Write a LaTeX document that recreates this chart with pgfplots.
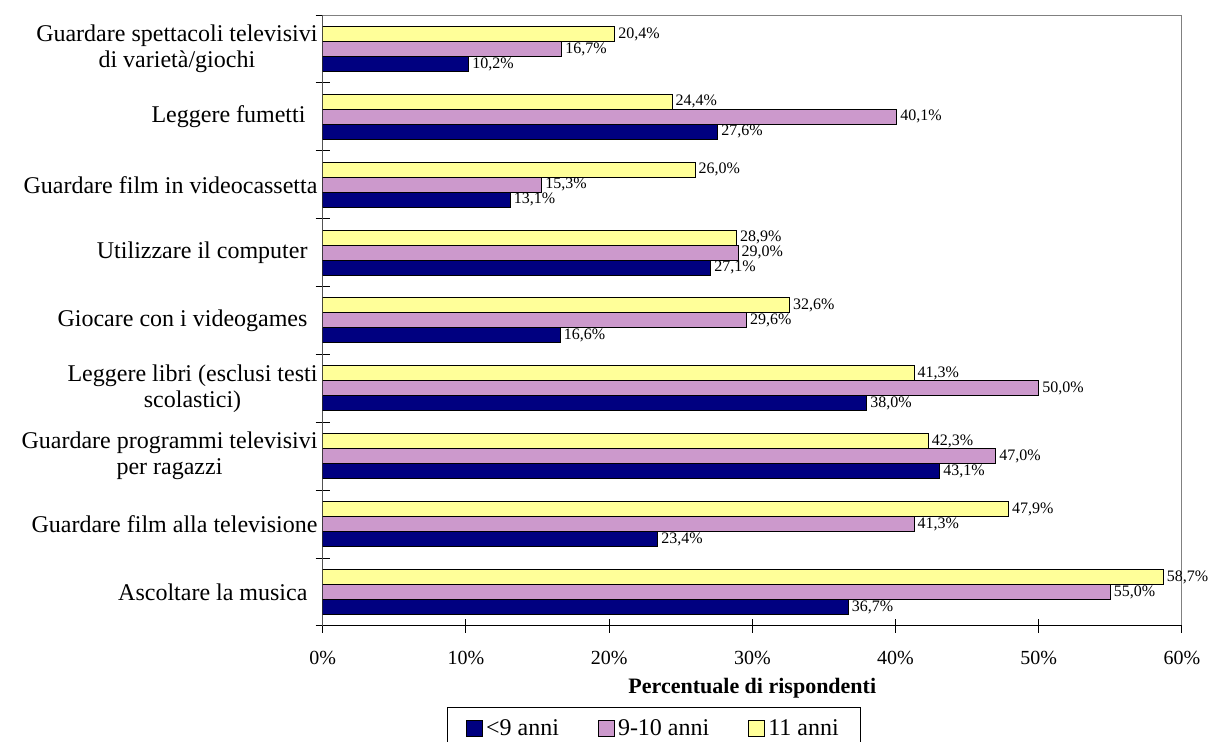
\documentclass[border=0pt]{standalone}
\usepackage{fontspec}
\setmainfont{Liberation Serif}
\usepackage{pgfplots}
\pgfplotsset{compat=1.18}
\definecolor{navybar}{HTML}{000080}
\definecolor{lilacbar}{HTML}{CC99CC}
\definecolor{yellowbar}{HTML}{FFFF99}

\begin{document}
\begin{tikzpicture}
\begin{axis}[
at={(0pt,0pt)}, anchor=south west,
width=429.7pt, height=305.5pt, scale only axis,
xbar, bar width=0.221,
xmin=0, xmax=60, ymin=-0.5, ymax=8.5,
xtick={0,10,...,60},
/pgf/number format/assume math mode=true,
xticklabel={\pgfmathprintnumber{\tick}\%},
xticklabel style={font=\fontsize{10}{12}\selectfont, yshift=-5.5pt},
xtick pos=bottom, ytick pos=left,
tick align=center, major tick length=7pt,
tick style={black, line width=0.5pt},
ytick={-0.5,0.5,...,8.5},
yticklabels={},
extra y ticks={0,1,...,8},
extra y tick labels={Ascoltare la musica\hspace*{5pt},
  Guardare film alla televisione,
  {Guardare programmi televisivi\\per ragazzi},
  {Leggere libri (esclusi testi\\scolastici)},
  Giocare con i videogames\hspace*{5pt},
  Utilizzare il computer\hspace*{5pt},
  Guardare film in videocassetta,
  Leggere fumetti\hspace*{6pt},
  {Guardare spettacoli televisivi\\di varietà/giochi}},
extra y tick style={major tick length=0pt, tick style={draw=none}},
yticklabel style={font=\fontsize{12}{13}\selectfont, align=center, anchor=east, inner sep=0pt, xshift=-2.4pt},
axis line style={gray, line width=0.5pt},
xlabel={Percentuale di rispondenti},
xlabel style={at={(axis description cs:0.5,0)}, anchor=north, yshift=-22.5pt, font=\bfseries\fontsize{11}{13}\selectfont},
point meta=x,
nodes near coords={\pgfmathprintnumber[fixed,fixed zerofill,precision=1,use comma]{\pgfplotspointmeta}\%},
every node near coord/.append style={font=\fontsize{8}{9}\selectfont, black, inner sep=1.5pt, anchor=west},
legend columns=3,
legend style={at={(0,0)}, anchor=north west, xshift=62pt, yshift=-40.5pt,
  draw=black, line width=0.5pt, font=\fontsize{12}{14}\selectfont,
  inner xsep=9.5pt, inner ysep=4pt,
  nodes={inner xsep=1.5pt},
  /tikz/every even column/.append style={column sep=18pt}},
legend image code/.code={\draw[#1, line width=0.5pt] (0pt,-4pt) rectangle (8pt,4pt);},
]
\addplot[fill=navybar, draw=black, line width=0.5pt, bar shift=-0.221] coordinates {
(36.7,0) (23.4,1) (43.1,2) (38.0,3) (16.6,4) (27.1,5) (13.1,6) (27.6,7) (10.2,8)};
\addplot[fill=lilacbar, draw=black, line width=0.5pt, bar shift=0] coordinates {
(55.0,0) (41.3,1) (47.0,2) (50.0,3) (29.6,4) (29.0,5) (15.3,6) (40.1,7) (16.7,8)};
\addplot[fill=yellowbar, draw=black, line width=0.5pt, bar shift=0.221] coordinates {
(58.7,0) (47.9,1) (42.3,2) (41.3,3) (32.6,4) (28.9,5) (26.0,6) (24.4,7) (20.4,8)};
\legend{\textless{}9 anni, 9-10 anni, 11 anni}
\draw[black, line width=0.5pt] (rel axis cs:0,1) -- (rel axis cs:0,0) -- (rel axis cs:1,0);
\end{axis}
\pgfresetboundingbox
\path (-161.35pt,-58pt) rectangle (443.7pt,313pt);
\end{tikzpicture}
\end{document}
